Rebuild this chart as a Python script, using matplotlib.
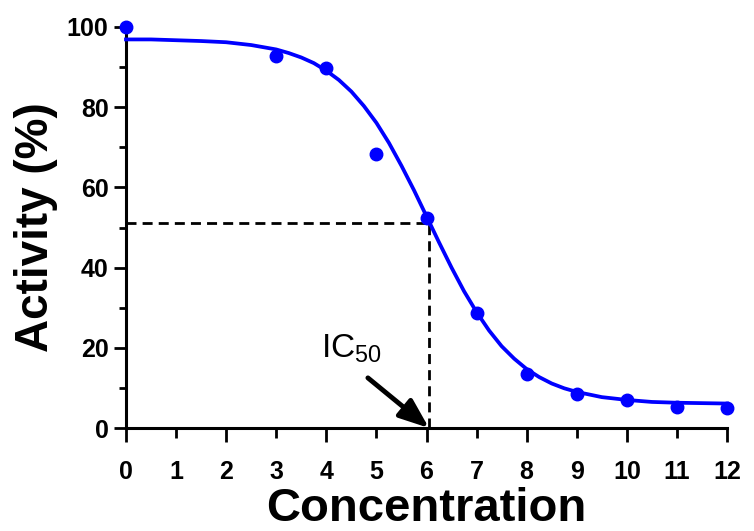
# Dose-response curve with IC50 marker

import numpy as np
import matplotlib.pyplot as plt

plt.rcParams['font.family'] = ['Liberation Sans', 'DejaVu Sans']

# measured points
conc = [0, 3, 4, 5, 6, 7, 8, 9, 10, 11, 12]
activity = [100, 92.7, 89.7, 68.3, 52.3, 28.8, 13.5, 8.5, 7.0, 5.3, 5.0]

# fitted curve, every 0.25
fit_x = [0, 0.5, 1, 1.5, 2, 2.5, 3, 3.25, 3.5, 3.75, 4, 4.25, 4.5, 4.75, 5,
         5.25, 5.5, 5.75, 6, 6.25, 6.5, 6.75, 7, 7.25, 7.5, 7.75, 8,
         8.25, 8.5, 8.75, 9, 9.5, 10, 10.5, 11, 11.5, 12]
fit_y = [96.9, 96.9, 96.7, 96.5, 96.2, 95.5, 94.4, 93.5, 92.4, 91.0, 89.1, 86.8, 83.9, 80.3, 76.1,
         71.1, 65.4, 59.3, 52.8, 46.3, 40.0, 34.1, 28.9, 24.3, 20.4, 17.3, 14.7,
         12.7, 11.1, 9.9, 9.0, 7.7, 7.0, 6.5, 6.3, 6.2, 6.1]

IC50_X = 6.05
IC50_Y = 51

x_major = [0, 2, 4, 6, 8, 10, 12]
x_minor = [1, 3, 5, 7, 9, 11]
y_major = [0, 20, 40, 60, 80, 100]
y_minor = [10, 30, 50, 70, 90]

fig = plt.figure(figsize=(7.54, 5.31), dpi=100)
ax = fig.add_axes([126/754, 1 - 428/531, 601/754, 401/531])

ax.plot(fit_x, fit_y, color='#0000ff', lw=2.7, clip_on=False, zorder=3)
ax.plot(conc, activity, 'o', color='#0000ff', ms=9, clip_on=False, zorder=4)

# IC50 guide lines
ax.plot([0, IC50_X], [IC50_Y, IC50_Y], color='black', lw=2, dashes=(3.6, 2.2), zorder=2)
ax.plot([IC50_X, IC50_X], [0, IC50_Y], color='black', lw=2, dashes=(3.6, 2.2), zorder=2)

ax.annotate('', xy=(IC50_X, 0), xytext=(4.83, 12.5),
            arrowprops=dict(arrowstyle='-|>,head_length=1.8,head_width=0.7',
                            color='black', lw=3.5, shrinkA=0, shrinkB=0))
ax.text(3.9, 17.7, r'IC$_{\mathregular{50}}$', fontsize=24, ha='left', va='baseline')

ax.set_xlim(0, 12)
ax.set_ylim(0, 100)

ax.set_xticks(x_major, [str(v) for v in x_major])
ax.set_xticks(x_minor, [str(v) for v in x_minor], minor=True)
ax.set_yticks(y_major, [str(v) for v in y_major])
ax.set_yticks(y_minor, minor=True)

ax.tick_params(axis='x', which='major', length=10.3, width=2, pad=13,
               labelsize=18)
ax.tick_params(axis='x', which='minor', length=7.2, width=2, pad=16,
               labelsize=18)
ax.tick_params(axis='y', which='major', length=9, width=2, pad=3.6, labelsize=18)
ax.tick_params(axis='y', which='minor', length=5, width=2)
for lab in ax.get_xticklabels() + ax.get_xticklabels(minor=True) + ax.get_yticklabels():
    lab.set_fontweight('bold')

for s in ['top', 'right']:
    ax.spines[s].set_visible(False)
for s in ['left', 'bottom']:
    ax.spines[s].set_linewidth(2.2)

ax.set_xlabel('Concentration', fontsize=34, fontweight='bold', labelpad=2)
ax.set_ylabel('Activity (%)', fontsize=33, fontweight='bold', labelpad=6)

fig.savefig('out.png', dpi=100)
